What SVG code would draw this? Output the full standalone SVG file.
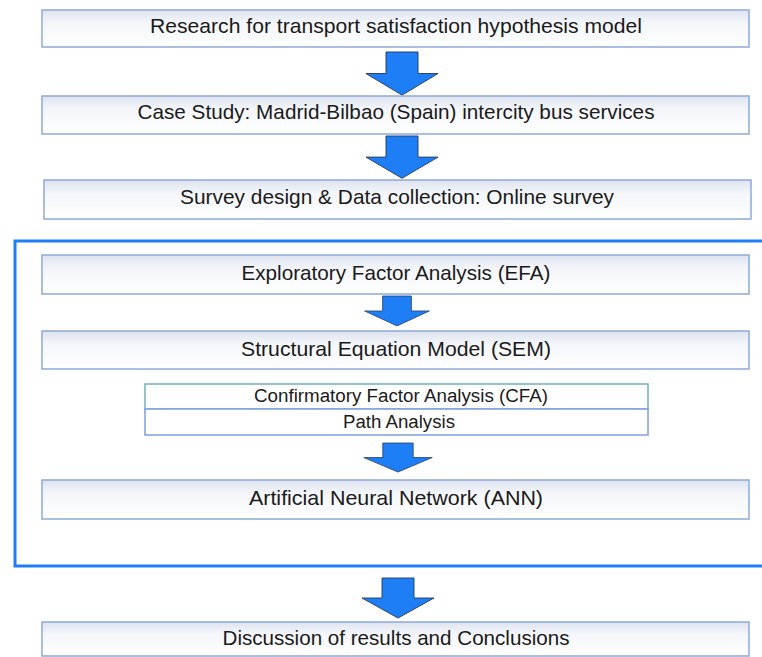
<svg xmlns="http://www.w3.org/2000/svg" width="762" height="657" viewBox="0 0 762 657">
<defs>
<linearGradient id="g" x1="0" y1="0" x2="0" y2="1">
<stop offset="0" stop-color="#dde3ef"/>
<stop offset="0.35" stop-color="#f4f6fa"/>
<stop offset="1" stop-color="#ffffff"/>
</linearGradient>
<path id="arr" d="M-16,0 H16 V22 H36 L0,44 L-36,22 H-16 Z"/>
</defs>
<style>
.box{fill:url(#g);stroke:#8ea9d8;stroke-width:1.5}
.sub{fill:#fff;stroke-width:1.5}
.t{font-family:"Liberation Sans",Arial,sans-serif;font-size:21px;fill:#1a1a1a;text-anchor:middle}
.s{font-family:"Liberation Sans",Arial,sans-serif;font-size:18px;fill:#1a1a1a;text-anchor:middle}
.a{fill:#1e7ef5;stroke:#2b3f66;stroke-width:1}
</style>
<rect x="15" y="241" width="760" height="325" fill="none" stroke="#1f7ef7" stroke-width="3"/>
<g id="connectors">
<use href="#arr" class="a" transform="translate(402,52) scale(1,0.98)"/>
<use href="#arr" class="a" transform="translate(402,136) scale(1,0.96)"/>
<use href="#arr" class="a" transform="translate(397,296) scale(0.9,0.68)"/>
<use href="#arr" class="a" transform="translate(398,443) scale(0.95,0.66)"/>
<use href="#arr" class="a" transform="translate(398,578) scale(1,0.91)"/>
</g>
<g id="n1"><rect class="box" x="42" y="10" width="707" height="37"/><text class="t" x="396" y="33" textLength="492" lengthAdjust="spacingAndGlyphs">Research for transport satisfaction hypothesis model</text></g>
<g id="n2"><rect class="box" x="42" y="96" width="707" height="38"/><text class="t" x="396" y="119" textLength="517" lengthAdjust="spacingAndGlyphs">Case Study: Madrid-Bilbao (Spain) intercity bus services</text></g>
<g id="n3"><rect class="box" x="44" y="180" width="707" height="39"/><text class="t" x="397" y="204" textLength="434" lengthAdjust="spacingAndGlyphs">Survey design &amp; Data collection: Online survey</text></g>
<g id="n4"><rect class="box" x="42" y="255" width="707" height="39"/><text class="t" x="396" y="280" textLength="309" lengthAdjust="spacingAndGlyphs">Exploratory Factor Analysis (EFA)</text></g>
<g id="n5"><rect class="box" x="42" y="331" width="707" height="38"/><text class="t" x="396" y="356" textLength="310" lengthAdjust="spacingAndGlyphs">Structural Equation Model (SEM)</text></g>
<g id="n6"><rect class="sub" x="145" y="384" width="503" height="25" stroke="#6fb0c0"/><text class="s" x="401" y="402" textLength="294" lengthAdjust="spacingAndGlyphs">Confirmatory Factor Analysis (CFA)</text></g>
<g id="n7"><rect class="sub" x="145" y="409" width="503" height="26" stroke="#7f9fe0"/><text class="s" x="399" y="428" textLength="112" lengthAdjust="spacingAndGlyphs">Path Analysis</text></g>
<g id="n8"><rect class="box" x="42" y="480" width="707" height="39"/><text class="t" x="396" y="505" textLength="294" lengthAdjust="spacingAndGlyphs">Artificial Neural Network (ANN)</text></g>
<g id="n9"><rect class="box" x="42" y="622" width="707" height="34"/><text class="t" x="396" y="645" textLength="347" lengthAdjust="spacingAndGlyphs">Discussion of results and Conclusions</text></g>
</svg>
